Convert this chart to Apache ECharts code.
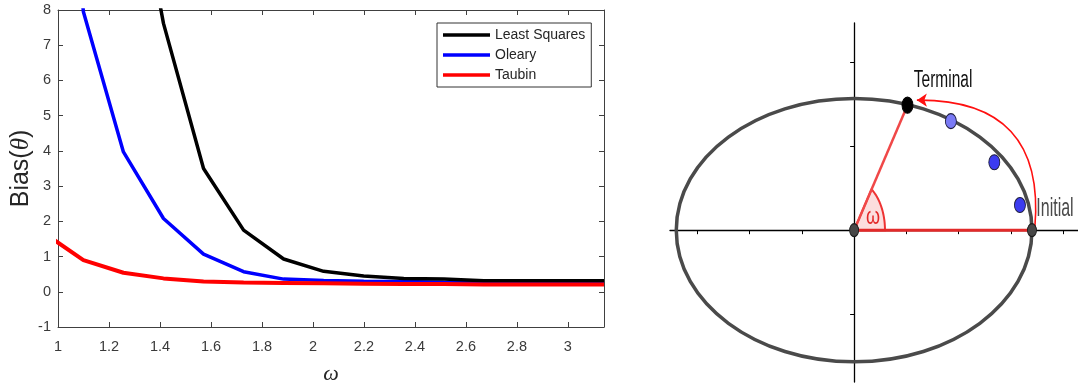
<!DOCTYPE html>
<html>
<head>
<meta charset="utf-8">
<script src="https://cdn.jsdelivr.net/npm/echarts@6/dist/echarts.min.js"></script>
<style>
  html, body { margin: 0; padding: 0; background: #fff; }
  #chart { width: 1078px; height: 386px; }
</style>
</head>
<body>
<div id="chart"></div>
<script>
// ---------- Left panel data: Bias(theta) vs omega ----------
const OMEGA = [0.9425, 1.0996, 1.2566, 1.4137, 1.5708, 1.7279, 1.8850, 2.0420, 2.1991, 2.3562, 2.5133, 2.6704, 2.8274, 2.9845, 3.1416];
const LEAST_SQUARES = [40, 25, 13.7, 7.62, 3.5, 1.75, 0.93, 0.58, 0.45, 0.38, 0.36, 0.31, 0.31, 0.31, 0.31];
const OLEARY = [20, 7.95, 3.97, 2.08, 1.07, 0.57, 0.36, 0.32, 0.30, 0.29, 0.27, 0.26, 0.26, 0.26, 0.26];
const TAUBIN = [1.68, 0.90, 0.54, 0.38, 0.29, 0.26, 0.25, 0.24, 0.23, 0.22, 0.22, 0.21, 0.21, 0.21, 0.21];
const SERIES_NAMES = ['Least Squares', 'Oleary', 'Taubin'];
const X_TICKS = [1, 1.2, 1.4, 1.6, 1.8, 2, 2.2, 2.4, 2.6, 2.8, 3];
const Y_TICKS = [-1, 0, 1, 2, 3, 4, 5, 6, 7, 8];

// ---------- Right panel data: ellipse diagram ----------
const ELLIPSE = [0, 0, 3.4, 1.57];          // centre x, centre y, semi-axis a, semi-axis b
const ORIGIN = [0, 0];
const INITIAL = [3.4, 0];
const TERMINAL = [1.02, 1.49];
const MID_POINTS = [[1.85, 1.30], [2.68, 0.81], [3.17, 0.30]];
const WEDGE_RADIUS = 0.59;
const ARROW_FROM = [3.455, 0.03];
const ARROW_TO = [1.2, 1.55];
const DIAG_X_TICKS = [-3, -2, -1, 1, 2, 3, 4];
const DIAG_Y_TICKS = [-1, 1, 2];
const LABEL_TEXT = ['Terminal', 'Initial', 'ω'];
const LABEL_POS = [[1.70, 1.79], [3.84, 0.25], [0.36, 0.155]];

const pairs = (xs, ys) => xs.map((x, i) => [x, ys[i]]);
const FONT = '"Liberation Sans", Arial, sans-serif';
const AX = '#404040';

const labelStyles = [
  { fontSize: 15.5, fill: '#111', scaleY: 1.55 },
  { fontSize: 16, fill: '#4a4a4a', scaleY: 1.6 },
  { fontSize: 18, fill: '#e32626', scaleY: 1.3 }
];

const wedgeAngle = Math.atan2(TERMINAL[1], TERMINAL[0]) * 180 / Math.PI;

const chart = echarts.init(document.getElementById('chart'), null, { renderer: 'canvas' });

const option = {
  animation: false,
  backgroundColor: '#fff',
  textStyle: { fontFamily: FONT },
  grid: [
    { left: 58, top: 10, width: 546, height: 317, containLabel: false, outerBoundsMode: 'none' },
    { left: 670, right: 0, top: 23, bottom: 4, containLabel: false, outerBoundsMode: 'none' }
  ],
  legend: {
    data: SERIES_NAMES,
    orient: 'vertical',
    left: 437, top: 23,
    icon: 'rect',
    itemWidth: 47, itemHeight: 3.5, itemGap: 6,
    padding: [5, 6, 5, 6],
    borderColor: '#333', borderWidth: 1, backgroundColor: '#fff',
    textStyle: { fontSize: 14, lineHeight: 14, color: '#262626', fontFamily: FONT },
    selectedMode: false
  },
  xAxis: [
    {
      type: 'value', gridIndex: 0, min: 1, max: Math.PI, position: 'bottom',
      name: 'ω', nameLocation: 'middle', nameGap: 36, nameMoveOverlap: false,
      nameTextStyle: { fontSize: 22, fontStyle: 'italic', fontFamily: '"Liberation Serif", serif', color: '#262626' },
      axisLine: { onZero: false, lineStyle: { color: AX, width: 1 } },
      axisTick: { inside: true, length: 5, customValues: X_TICKS, lineStyle: { color: AX } },
      axisLabel: { customValues: X_TICKS, fontSize: 14.5, color: '#3a3a3a', margin: 12, fontFamily: FONT },
      splitLine: { show: false }
    },
    {
      type: 'value', gridIndex: 0, min: 1, max: Math.PI, position: 'top',
      axisLine: { onZero: false, lineStyle: { color: AX, width: 1 } },
      axisTick: { inside: true, length: 5, customValues: X_TICKS, lineStyle: { color: AX } },
      axisLabel: { show: false },
      splitLine: { show: false }
    },
    {
      type: 'value', gridIndex: 1, min: -3.52, max: 4.28,
      axisLine: { onZero: true, lineStyle: { color: '#000', width: 1.3 } },
      axisTick: { inside: false, length: 4, customValues: DIAG_X_TICKS, lineStyle: { color: '#000', width: 1 } },
      axisLabel: { show: false },
      splitLine: { show: false }
    }
  ],
  yAxis: [
    {
      type: 'value', gridIndex: 0, min: -1, max: 8, interval: 1, position: 'left',
      name: 'Bias({t|θ})', nameLocation: 'middle', nameGap: 24, nameRotate: 90, nameMoveOverlap: false,
      nameTextStyle: {
        fontSize: 25, color: '#262626', fontFamily: FONT,
        rich: { t: { fontSize: 25, fontStyle: 'italic', fontFamily: '"Liberation Serif", serif', color: '#262626' } }
      },
      axisLine: { onZero: false, lineStyle: { color: AX, width: 1 } },
      axisTick: { inside: true, length: 5, customValues: Y_TICKS, lineStyle: { color: AX } },
      axisLabel: { customValues: Y_TICKS, fontSize: 14.5, color: '#3a3a3a', margin: 7, fontFamily: FONT },
      splitLine: { show: false }
    },
    {
      type: 'value', gridIndex: 0, min: -1, max: 8, interval: 1, position: 'right',
      axisLine: { show: true, onZero: false, lineStyle: { color: AX, width: 1 } },
      axisTick: { show: true, inside: true, length: 5, customValues: Y_TICKS, lineStyle: { color: AX } },
      axisLabel: { show: false },
      splitLine: { show: false }
    },
    {
      type: 'value', gridIndex: 1, min: -1.81, max: 2.47,
      axisLine: { onZero: true, lineStyle: { color: '#000', width: 1.3 } },
      axisTick: { inside: false, length: 4, customValues: DIAG_Y_TICKS, lineStyle: { color: '#000', width: 1 } },
      axisLabel: { show: false },
      splitLine: { show: false }
    }
  ],
  series: [
    {
      name: 'Oleary', type: 'line', xAxisIndex: 0, yAxisIndex: 0,
      data: pairs(OMEGA, OLEARY), showSymbol: false, symbol: 'none', clip: true,
      lineStyle: { color: '#0000ff', width: 3.5 }, itemStyle: { color: '#0000ff' }, silent: true
    },
    {
      name: 'Least Squares', type: 'line', xAxisIndex: 0, yAxisIndex: 0,
      data: pairs(OMEGA, LEAST_SQUARES), showSymbol: false, symbol: 'none', clip: true,
      lineStyle: { color: '#000', width: 3.5 }, itemStyle: { color: '#000' }, silent: true
    },
    {
      name: 'Taubin', type: 'line', xAxisIndex: 0, yAxisIndex: 0,
      data: pairs(OMEGA, TAUBIN), showSymbol: false, symbol: 'none', clip: true,
      lineStyle: { color: '#ff0000', width: 4 }, itemStyle: { color: '#ff0000' }, silent: true
    },
    // ---- diagram ----
    {
      type: 'custom', xAxisIndex: 2, yAxisIndex: 2, silent: true, z: 3,
      data: [ELLIPSE], encode: { x: 0, y: 1 },
      renderItem: (params, api) => {
        const c = api.coord([api.value(0), api.value(1)]);
        const s = api.size([api.value(2), api.value(3)]);
        return {
          type: 'ellipse',
          shape: { cx: c[0], cy: c[1], rx: s[0], ry: s[1] },
          style: { fill: 'none', stroke: '#4a4a4a', lineWidth: 3.5 }
        };
      }
    },
    {
      type: 'custom', xAxisIndex: 2, yAxisIndex: 2, silent: true, z: 4,
      data: [[ORIGIN[0], ORIGIN[1], WEDGE_RADIUS, wedgeAngle]], encode: { x: 0, y: 1 },
      renderItem: (params, api) => {
        const cx = api.value(0), cy = api.value(1), r = api.value(2);
        const ang = api.value(3) * Math.PI / 180;
        const pts = [api.coord([cx, cy])];
        for (let i = 0; i <= 48; i++) {
          const t = ang * i / 48;
          pts.push(api.coord([cx + r * Math.cos(t), cy + r * Math.sin(t)]));
        }
        return {
          type: 'polygon', shape: { points: pts },
          style: { fill: 'rgba(240,90,90,0.2)', stroke: '#ee3333', lineWidth: 2 }
        };
      }
    },
    {
      type: 'line', xAxisIndex: 2, yAxisIndex: 2, silent: true, z: 5,
      data: [ORIGIN, TERMINAL], symbol: 'none',
      lineStyle: { color: '#f04848', width: 2.5 }
    },
    {
      type: 'line', xAxisIndex: 2, yAxisIndex: 2, silent: true, z: 5,
      data: [ORIGIN, INITIAL], symbol: 'none',
      lineStyle: { color: '#e22a2a', width: 3 }
    },
    {
      type: 'lines', coordinateSystem: 'cartesian2d', xAxisIndex: 2, yAxisIndex: 2, silent: true, z: 5,
      data: [{ coords: [ARROW_FROM, ARROW_TO] }],
      symbol: ['none', 'arrow'], symbolSize: 10,
      lineStyle: { color: '#ff1010', width: 1.6, curveness: -0.55, opacity: 1 }
    },
    {
      type: 'scatter', xAxisIndex: 2, yAxisIndex: 2, silent: true, z: 6,
      data: [ORIGIN, INITIAL], symbol: 'circle', symbolSize: [9, 13],
      itemStyle: { color: '#474747', borderColor: '#1a1a1a', borderWidth: 1, opacity: 1 }
    },
    {
      type: 'scatter', xAxisIndex: 2, yAxisIndex: 2, silent: true, z: 6,
      data: [TERMINAL], symbol: 'circle', symbolSize: [11, 16],
      itemStyle: { color: '#000', borderColor: '#000', borderWidth: 1, opacity: 1 }
    },
    {
      type: 'scatter', xAxisIndex: 2, yAxisIndex: 2, silent: true, z: 6,
      data: MID_POINTS, symbol: 'circle', symbolSize: [11, 15],
      itemStyle: {
        color: (p) => p.dataIndex === 0 ? '#7a7af5' : '#3c3cf0',
        borderColor: '#1c1c3c', borderWidth: 1, opacity: 1
      }
    },
    {
      type: 'custom', xAxisIndex: 2, yAxisIndex: 2, silent: true, z: 7,
      data: LABEL_POS, encode: { x: 0, y: 1 },
      renderItem: (params, api) => {
        const p = api.coord([api.value(0), api.value(1)]);
        const st = labelStyles[params.dataIndex];
        return {
          type: 'text', x: p[0], y: p[1], scaleY: st.scaleY,
          style: {
            text: LABEL_TEXT[params.dataIndex], fill: st.fill,
            fontSize: st.fontSize, fontFamily: FONT,
            align: 'center', verticalAlign: 'middle'
          }
        };
      }
    }
  ]
};

chart.setOption(option);
</script>
</body>
</html>
